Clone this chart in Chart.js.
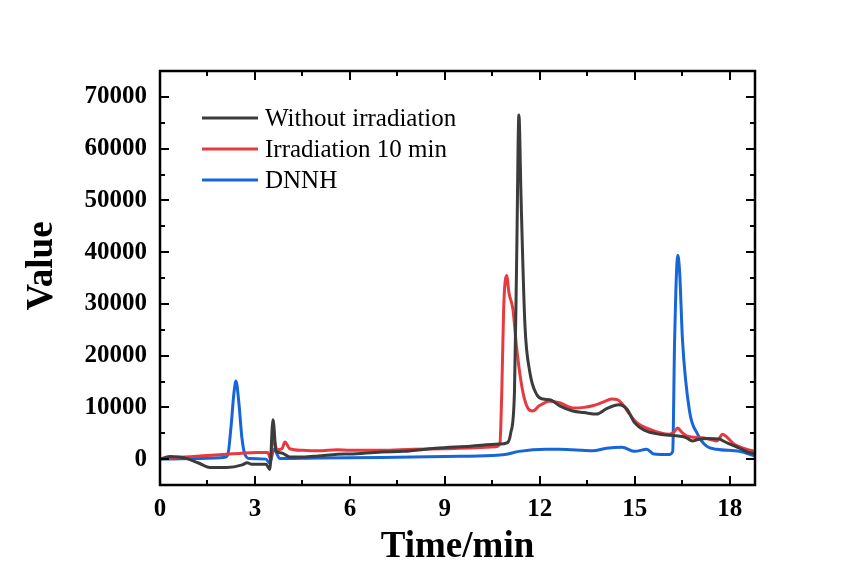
<!DOCTYPE html>
<html>
<head>
<meta charset="utf-8">
<script src="https://cdn.jsdelivr.net/npm/chart.js@4/dist/chart.umd.min.js"></script>
<style>
html,body{margin:0;padding:0;background:#fff;}
#wrap{width:860px;height:570px;}
</style>
</head>
<body>
<div id="wrap"><canvas id="c" width="860" height="570"></canvas></div>
<script>
// ---- data ----
const seriesNames = ["Without irradiation", "Irradiation 10 min", "DNNH"];

const blackT = [0,0.3,0.6,0.9,1.2,1.58,2.1,2.6,2.75,2.9,3.35,3.47,3.57,3.67,3.85,4.1,4.5,5,5.6,6,7,7.7,8.7,9.8,10.7,10.98,11.08,11.2,11.27,11.34,11.41,11.53,11.68,11.9,12.1,12.31,12.63,13.04,13.4,13.8,14.1,14.5,14.75,15.0,15.3,15.79,16.3,16.6,16.83,17.0,17.3,17.68,17.8,18.05,18.31,18.55,18.8];
const blackV = [0,500,400,0,-700,-1600,-1600,-1100,-700,-1000,-1000,-2000,7600,1500,1200,400,400,600,950,1000,1400,1500,2100,2500,2900,3200,5000,13000,39000,66500,50000,26000,17000,12500,11600,11500,10300,9300,9000,8700,9700,10500,9700,7000,5600,4800,4500,4200,3500,3800,4000,3900,3500,2800,2100,1400,1000];

const redT = [0,0.5,1.5,2.0,2.5,3.05,3.4,3.5,3.57,3.7,3.85,3.95,4.1,4.5,5,5.6,6,7,8,9,10,10.6,10.74,10.8,10.86,10.95,11.03,11.15,11.26,11.37,11.5,11.62,11.78,11.98,12.31,12.63,13.04,13.4,13.67,14.0,14.27,14.45,14.6,14.8,15.0,15.2,15.47,15.79,16.1,16.23,16.36,16.47,16.64,16.95,17.27,17.59,17.78,17.92,18.1,18.3,18.53,18.8];
const redV = [0,300,700,900,1100,1300,1300,0,4100,1800,2000,3300,2000,1700,1600,1800,1700,1700,1900,2000,2200,2400,3000,13200,29300,35500,32000,29000,22000,16500,12000,9900,9300,10300,11200,10900,9900,10000,10300,11000,11600,11500,10700,9000,7400,6500,5800,5100,4800,5200,6000,5300,4500,4200,4000,3500,4800,4200,3100,2400,1900,1500];

const blueT = [0,1.0,2.0,2.14,2.24,2.34,2.4,2.49,2.59,2.68,2.84,3.35,3.47,3.6,3.79,5,7,9,10.5,10.9,11.35,12.2,12.63,13.67,14.1,14.6,15.0,15.38,15.6,16.1,16.2,16.26,16.36,16.42,16.51,16.73,16.99,17.27,17.59,18.31,18.8];
const blueV = [0,100,300,800,6000,13000,15100,11000,4000,1000,100,0,-800,1900,100,200,300,500,700,900,1500,1900,1900,1600,2100,2300,1500,1900,1000,900,1500,22900,39400,36000,22900,9300,4800,2500,1900,1500,600];

const xMajorTicks = [0,3,6,9,12,15,18];
const xMinorTicks = [1.5,4.5,7.5,10.5,13.5,16.5];
const yMajorTicks = [0,10000,20000,30000,40000,50000,60000,70000];
const yMinorTicks = [-5000,5000,15000,25000,35000,45000,55000,65000];

const colors = ["#3c3c3c", "#e8393e", "#1766d8"];

function pts(t, v){ return t.map((x,i)=>({x:x, y:v[i]})); }

const FONT = "'Liberation Serif', 'Times New Roman', serif";

const framePlugin = {
  id: 'frame',
  afterDatasetsDraw(chart){
    const ctx = chart.ctx, a = chart.chartArea;
    const xs = chart.scales.x, ys = chart.scales.y;
    ctx.save();
    ctx.strokeStyle = '#000';
    ctx.lineWidth = 2;
    ctx.lineCap = 'butt';
    const tick = (x1,y1,x2,y2)=>{ctx.beginPath();ctx.moveTo(x1,y1);ctx.lineTo(x2,y2);ctx.stroke();};
    xMajorTicks.forEach(v=>{const p=Math.round(xs.getPixelForValue(v)); tick(p,a.bottom,p,a.bottom-9); tick(p,a.top,p,a.top+9);});
    xMinorTicks.forEach(v=>{const p=Math.round(xs.getPixelForValue(v)); tick(p,a.bottom,p,a.bottom-5); tick(p,a.top,p,a.top+5);});
    yMajorTicks.forEach(v=>{const p=Math.round(ys.getPixelForValue(v)); tick(a.left,p,a.left+9,p); tick(a.right,p,a.right-9,p);});
    yMinorTicks.forEach(v=>{const p=Math.round(ys.getPixelForValue(v)); tick(a.left,p,a.left+5,p); tick(a.right,p,a.right-5,p);});
    ctx.lineWidth = 2.5;
    ctx.strokeRect(a.left, a.top, a.right-a.left, a.bottom-a.top);
    // legend
    ctx.font = "25px " + FONT;
    ctx.textBaseline = 'middle';
    ctx.textAlign = 'left';
    chart.data.datasets.forEach((ds,i)=>{
      const y = a.top + 47 + i*31;
      ctx.strokeStyle = ds.borderColor;
      ctx.lineWidth = 3;
      tick(a.left+42, y, a.left+98, y);
      ctx.fillStyle = '#000';
      ctx.fillText(ds.label, a.left+105, y+1);
    });
    // y axis title
    ctx.save();
    ctx.translate(42, 266);
    ctx.rotate(-Math.PI/2);
    ctx.font = "bold 37px " + FONT;
    ctx.textAlign = 'center';
    ctx.textBaseline = 'middle';
    ctx.fillStyle = '#000';
    ctx.fillText('Value', 0, 0);
    ctx.restore();
    ctx.restore();
  }
};

new Chart(document.getElementById('c'), {
  type: 'line',
  data: {
    datasets: [
      {label: seriesNames[0], data: pts(blackT, blackV), borderColor: colors[0]},
      {label: seriesNames[1], data: pts(redT, redV), borderColor: colors[1]},
      {label: seriesNames[2], data: pts(blueT, blueV), borderColor: colors[2]}
    ].map(d=>Object.assign(d,{borderWidth:3,pointRadius:0,fill:false,cubicInterpolationMode:'monotone'}))
  },
  options: {
    responsive: false,
    animation: false,
    layout: {padding: {left: 0, top: 71, right: 105, bottom: 0}},
    plugins: {legend: {display: false}, tooltip: {enabled: false}},
    scales: {
      x: {
        type: 'linear', min: 0, max: 18.8,
        grid: {display: false}, border: {display: false},
        afterBuildTicks: s => { s.ticks = xMajorTicks.map(v=>({value:v})); },
        afterFit: s => { s.height = 85; },
        ticks: {color:'#000', padding: 2, maxRotation: 0, font: {family: FONT, size: 25, weight: 'bold'}},
        title: {display: true, text: 'Time/min', color:'#000', padding: {top:0, bottom:4}, font: {family: FONT, size: 37, weight: 'bold', lineHeight: 1}}
      },
      y: {
        type: 'linear', min: -5000, max: 75000,
        grid: {display: false}, border: {display: false},
        afterBuildTicks: s => { s.ticks = yMajorTicks.map(v=>({value:v})); },
        afterFit: s => { s.width = 160; },
        ticks: {color:'#000', padding: 5, font: {family: FONT, size: 25, weight: 'bold'}, callback: v => String(v)},
        title: {display: false}
      }
    }
  },
  plugins: [framePlugin]
});
</script>
</body>
</html>
